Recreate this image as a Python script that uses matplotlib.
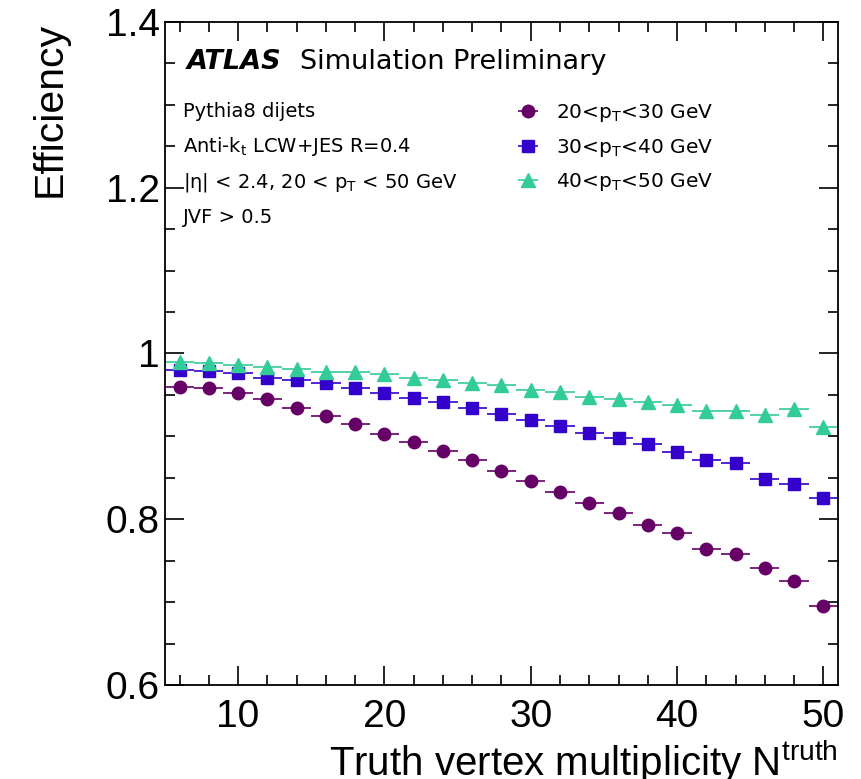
import numpy as np
import matplotlib
matplotlib.use("Agg")
import matplotlib.pyplot as plt
from matplotlib.ticker import MultipleLocator, FuncFormatter

plt.rcParams['font.family'] = ['Liberation Sans', 'DejaVu Sans']
plt.rcParams['mathtext.fontset'] = 'custom'
plt.rcParams['mathtext.rm'] = 'Liberation Sans'
plt.rcParams['mathtext.it'] = 'Liberation Sans:italic'
plt.rcParams['mathtext.bf'] = 'Liberation Sans:bold'

# Data
nvtx = [6, 8, 10, 12, 14, 16, 18, 20, 22, 24, 26, 28,
        30, 32, 34, 36, 38, 40, 42, 44, 46, 48, 50]
eff_20_30 = [0.960, 0.9585, 0.9525, 0.945, 0.934, 0.924, 0.915, 0.903, 0.893, 0.882, 0.872, 0.858,
             0.8465, 0.833, 0.820, 0.808, 0.793, 0.783, 0.764, 0.758, 0.741, 0.725, 0.6955]
eff_30_40 = [0.980, 0.9786, 0.9767, 0.971, 0.968, 0.9646, 0.958, 0.9525, 0.9465, 0.941, 0.934, 0.9275,
             0.920, 0.913, 0.904, 0.898, 0.891, 0.881, 0.872, 0.868, 0.8486, 0.8425, 0.8256]
eff_40_50 = [0.990, 0.988, 0.9855, 0.9835, 0.981, 0.978, 0.9774, 0.9755, 0.970, 0.9674, 0.9646, 0.9617,
             0.9565, 0.9537, 0.947, 0.9456, 0.9416, 0.9384, 0.930, 0.930, 0.9255, 0.933, 0.9114]
bin_half = 1.0

labels = [r'20<p$_{\mathrm{T}}$<30 GeV', r'30<p$_{\mathrm{T}}$<40 GeV', r'40<p$_{\mathrm{T}}$<50 GeV']
colors = ['#660066', '#3300cc', '#33cc99']
markers = ['o', 's', '^']
msizes = [9, 8, 10]

# annotation text in a slightly wider face, like the original
ann = ['DejaVu Sans']

fig = plt.figure(figsize=(8.61, 7.79), dpi=100)
ax = fig.add_axes([0.1916, 0.1207, 0.7817, 0.8511])

handles = []
for y, lab, c, m, ms in zip([eff_20_30, eff_30_40, eff_40_50], labels, colors, markers, msizes):
    h = ax.errorbar(nvtx, y, xerr=bin_half, fmt=m, color=c, ms=ms, mec=c,
                    elinewidth=1.2, capsize=0, label=lab)
    handles.append(h)

ax.set_xlim(5, 51)
ax.set_ylim(0.6, 1.4)
ax.xaxis.set_major_locator(MultipleLocator(10))
ax.xaxis.set_minor_locator(MultipleLocator(2))
ax.yaxis.set_major_locator(MultipleLocator(0.2))
ax.yaxis.set_minor_locator(MultipleLocator(0.05))
ax.yaxis.set_major_formatter(FuncFormatter(lambda v, p: ('%g' % round(v, 2))))
ax.tick_params(which='both', direction='in', top=True, right=True, width=1.2, labelsize=28)
ax.tick_params(which='major', length=14)
ax.tick_params(which='minor', length=7)
ax.tick_params(axis='x', pad=10)
for s in ax.spines.values():
    s.set_linewidth(1.3)

ax.set_ylabel('Efficiency', fontsize=29.5, loc='top', labelpad=27)
ax.set_xlabel(r'Truth vertex multiplicity N$^{\mathrm{truth}}$', fontsize=29, loc='right', labelpad=2)

ax.text(0.033, 0.929, 'ATLAS', transform=ax.transAxes, fontsize=19.5, fontweight='bold',
        style='italic', va='baseline', family=ann)
ax.text(0.2006, 0.929, 'Simulation Preliminary', transform=ax.transAxes, fontsize=19.5,
        va='baseline', family=ann)
info = ['Pythia8 dijets', r'Anti-k$_{\mathrm{t}}$ LCW+JES R=0.4',
        r'|η| < 2.4, 20 < p$_{\mathrm{T}}$ < 50 GeV', 'JVF > 0.5']
for i, t in enumerate(info):
    ax.text(0.027, 0.8567 - i * 0.0533, t, transform=ax.transAxes, fontsize=14,
            va='baseline', family=ann, math_fontfamily='dejavusans')

ax.legend(handles=handles, loc='upper left', bbox_to_anchor=(0.5097, 0.879), frameon=False,
          prop={'family': ann, 'size': 14.5}, handlelength=2.0, handletextpad=0.36,
          labelspacing=0.62, borderpad=0, borderaxespad=0)
for t in ax.get_legend().get_texts():
    t.set_math_fontfamily('dejavusans')

fig.savefig('out.png', dpi=100)
